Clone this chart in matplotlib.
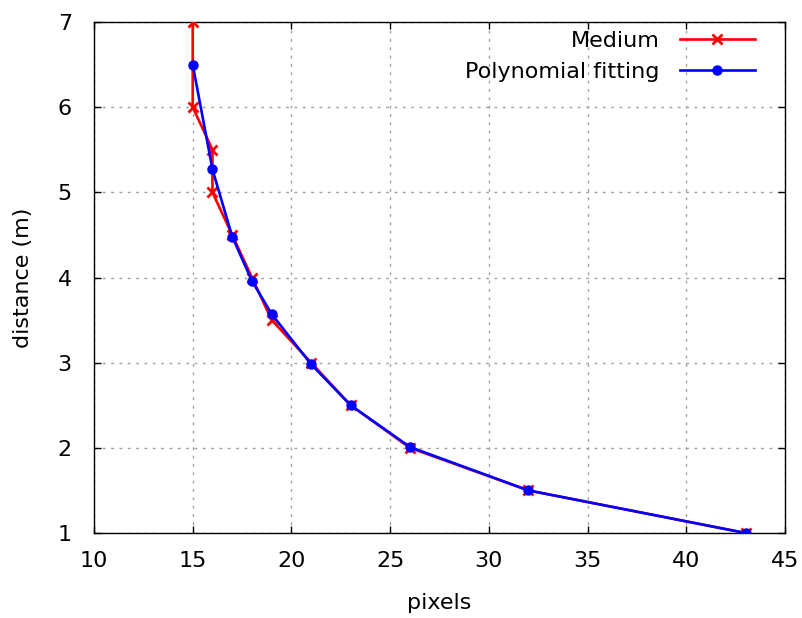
#!/usr/bin/env python
import matplotlib
matplotlib.use('Agg')
import matplotlib.pyplot as plt

# measured data (Medium)
medium_px = [15, 15, 16, 16, 17, 18, 19, 21, 23, 26, 32, 43]
medium_dist = [7.0, 6.0, 5.5, 5.0, 4.5, 4.0, 3.5, 3.0, 2.5, 2.0, 1.5, 1.0]

# polynomial fit
fit_px = [15, 16, 17, 18, 19, 21, 23, 26, 32, 43]
fit_dist = [6.50, 5.27, 4.48, 3.96, 3.57, 2.98, 2.50, 2.01, 1.50, 1.00]

xticks = [10, 15, 20, 25, 30, 35, 40, 45]
yticks = [1, 2, 3, 4, 5, 6, 7]

plt.rcParams['font.family'] = 'DejaVu Sans'

fig = plt.figure(figsize=(8.03, 6.18), dpi=100)
ax = fig.add_axes([94/803., 1-533/618., (785-94)/803., (533-22)/618.])

ax.plot(medium_px, medium_dist, color='#ff0000', lw=1.9, marker='x',
        markersize=7, mew=2, label='Medium', zorder=3)
ax.plot(fit_px, fit_dist, color='#0000ff', lw=1.9, marker='o',
        markersize=6.5, label='Polynomial fitting', zorder=4)

ax.set_xlim(10, 45)
ax.set_ylim(1, 7)
ax.set_xticks(xticks)
ax.set_yticks(yticks)
ax.tick_params(direction='in', top=True, right=True, labelsize=16,
               length=5, width=1)
ax.tick_params(axis='x', pad=13)
ax.tick_params(axis='y', pad=16)
ax.grid(True, color='#a0a0a0', linestyle=(0, (2, 4)), linewidth=1)
for s in ax.spines.values():
    s.set_linewidth(1)

ax.set_xlabel('pixels', fontsize=16, labelpad=16)
ax.set_ylabel('distance (m)', fontsize=16, labelpad=18)

leg = ax.legend(loc='upper right', frameon=False, markerfirst=False,
                fontsize=16, handlelength=3.4, handletextpad=0.9,
                labelspacing=0.48, borderaxespad=0,
                bbox_to_anchor=(0.9696, 1.0))

plt.savefig('out.png', dpi=100)
